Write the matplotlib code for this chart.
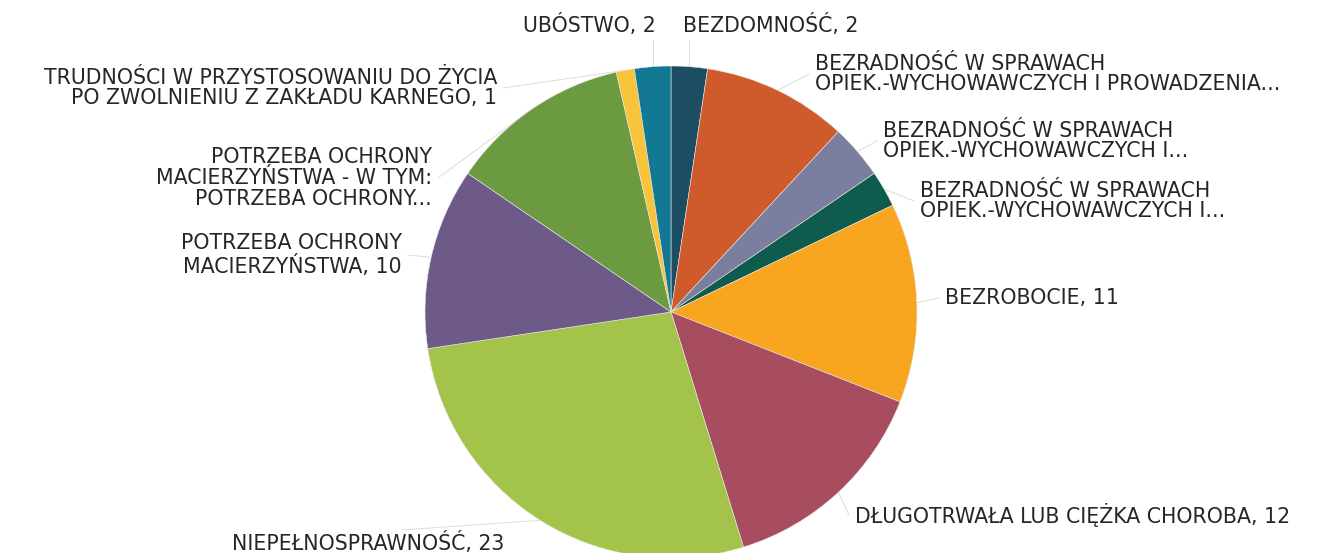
import numpy as np
import matplotlib
matplotlib.use("Agg")
import matplotlib.pyplot as plt

# categories (clockwise from 12 o'clock), label text as shown on the chart
names = ["BEZDOMNOŚĆ",
         "BEZRADNOŚĆ W SPRAWACH\nOPIEK.-WYCHOWAWCZYCH I PROWADZENIA...",
         "BEZRADNOŚĆ W SPRAWACH\nOPIEK.-WYCHOWAWCZYCH I...",
         "BEZRADNOŚĆ W SPRAWACH\nOPIEK.-WYCHOWAWCZYCH I...",
         "BEZROBOCIE",
         "DŁUGOTRWAŁA LUB CIĘŻKA CHOROBA",
         "NIEPEŁNOSPRAWNOŚĆ",
         "POTRZEBA OCHRONY\nMACIERZYŃSTWA",
         "POTRZEBA OCHRONY\nMACIERZYŃSTWA - W TYM:\nPOTRZEBA OCHRONY...",
         "TRUDNOŚCI W PRZYSTOSOWANIU DO ŻYCIA\nPO ZWOLNIENIU Z ZAKŁADU KARNEGO",
         "UBÓSTWO"]
values = [2, 8, 3, 2, 11, 12, 23, 10, 10, 1, 2]
value_shown = [True, False, False, False, True, True, True, True, False, True, True]

colors = ["#1d4d62", "#cf5a2b", "#7b7e9e", "#0f5b4d", "#f8a51f", "#a84d5f",
          "#a4c34b", "#6e5a88", "#6b9a40", "#f7c43c", "#127893"]

# label anchors in pixel coords (x, y from top), alignment
label_pos = [(683, 25, "left"), (815, 74, "left"), (883, 141, "left"),
             (920, 201, "left"), (945, 298, "left"), (855, 515, "left"),
             (232, 543, "left"), (402, 255, "right"), (432, 178, "right"),
             (497, 88, "right"), (656, 25, "right")]

W, H = 1317, 553
fig = plt.figure(figsize=(W / 100, H / 100), dpi=100)
ax = fig.add_axes([0, 0, 1, 1])

cx, cy, r = 671, H - 312, 246
wedges, _ = ax.pie(values, colors=colors, startangle=90, counterclock=False,
                   center=(cx, cy), radius=r, frame=True,
                   wedgeprops=dict(linewidth=0.4, edgecolor="#e8e8e8"))
ax.set_xlim(0, W)
ax.set_ylim(0, H)
ax.set_aspect("auto")
ax.axis("off")

for w, name, v, shown, (lx, ly, ha) in zip(wedges, names, values, value_shown, label_pos):
    txt = f"{name}, {v}" if shown else name
    ax.text(lx, H - ly, txt, ha=ha, va="center", multialignment=ha,
            fontsize=14.8, color="#262626", linespacing=1.06,
            family="DejaVu Sans")
    # leader line from slice edge to label
    mid = np.deg2rad((w.theta1 + w.theta2) / 2)
    px, py = cx + r * np.cos(mid), cy + r * np.sin(mid)
    qx = lx - 6 if ha == "left" else lx + 6
    qy = H - ly
    if name == "NIEPEŁNOSPRAWNOŚĆ":
        qx, qy = lx + 170, H - ly + 13
    if name in ("BEZDOMNOŚĆ", "UBÓSTWO"):
        qx, qy = px, H - ly - 15
    ax.plot([px, qx], [py, qy], color="#dcdcdc", lw=0.7, zorder=0)

fig.savefig("out.png", dpi=100)
